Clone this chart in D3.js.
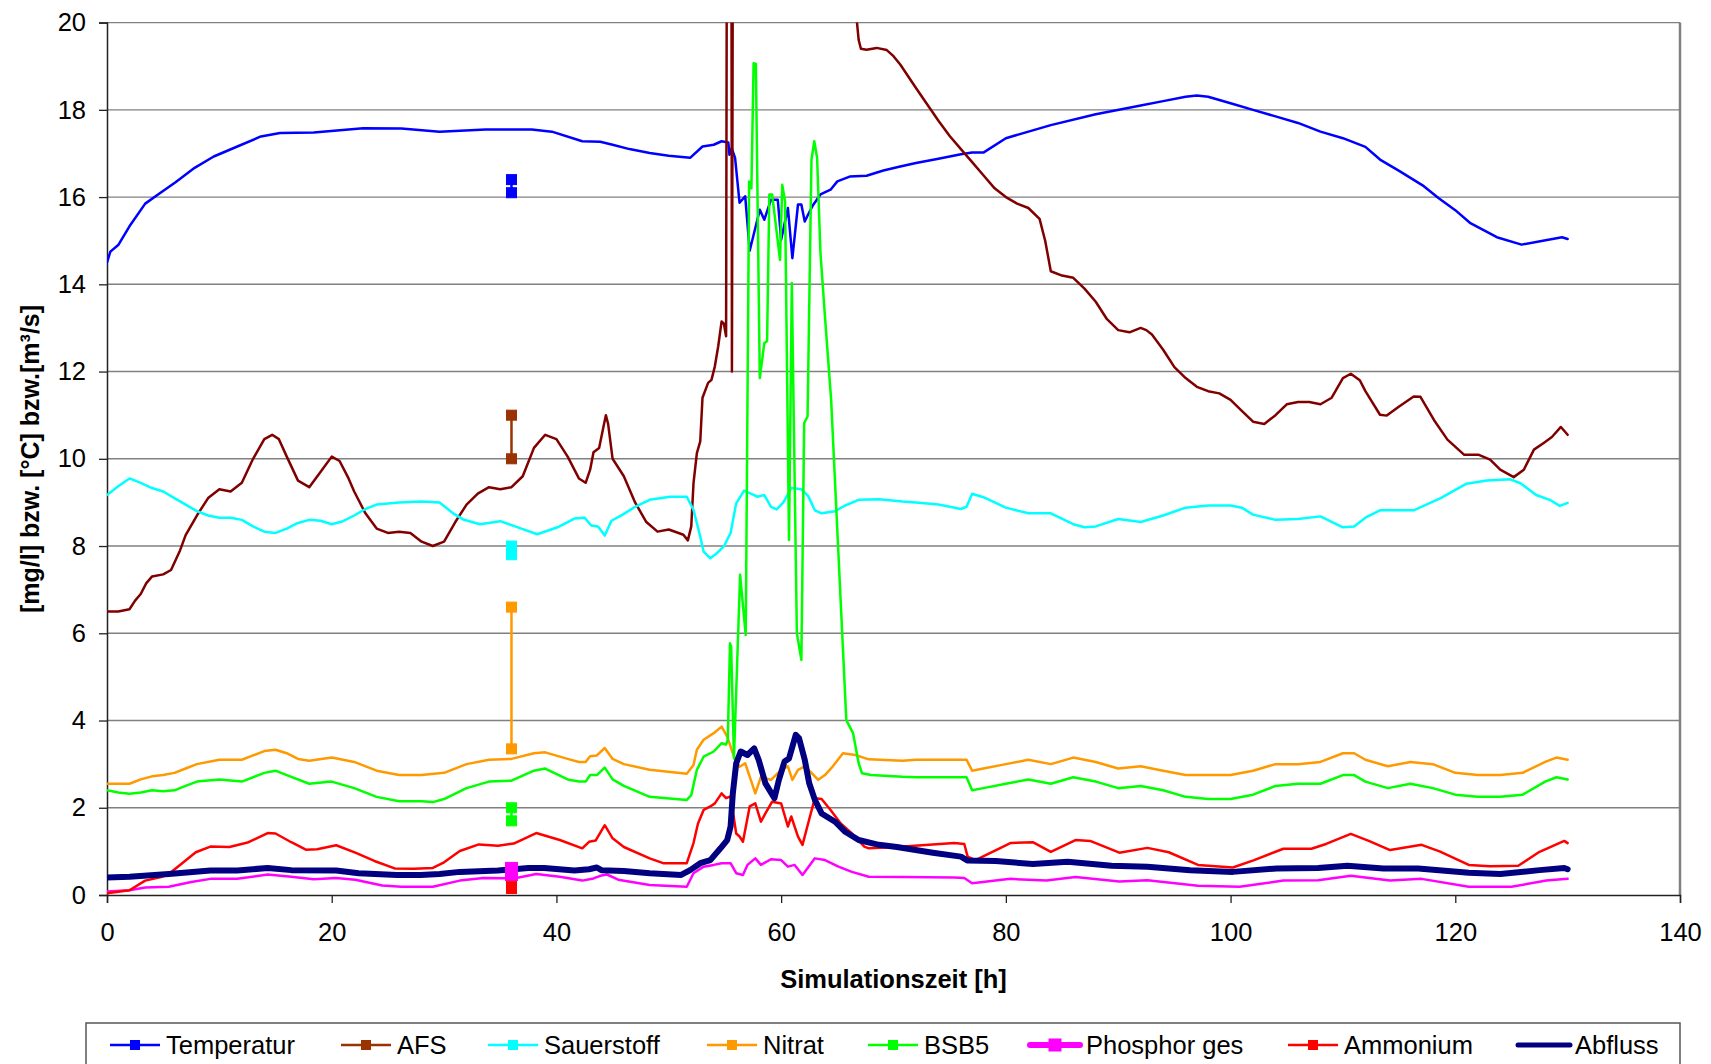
<!DOCTYPE html>
<html>
<head>
<meta charset="utf-8">
<script src="https://cdn.jsdelivr.net/npm/d3@7"></script>
<style>
  body { margin: 0; background: #fff; }
  text { font-family: "Liberation Sans", Arial, sans-serif; fill: #000; }
</style>
</head>
<body>
<div id="chart"></div>
<script>
// Simulation results, [hour, value] pairs
var temperatur = [[0,14.5],[0.3,14.75],[1,14.9],[2,15.33],[3.4,15.85],[4.7,16.09],[6.1,16.34],[7.8,16.67],[9.5,16.93],[11.6,17.16],[13.7,17.39],[15.4,17.47],[18.4,17.48],[22.8,17.58],[26.2,17.57],[29.6,17.5],[33.7,17.55],[37.8,17.55],[39.6,17.5],[42.3,17.28],[43.9,17.27],[45,17.2],[46.5,17.1],[48.3,17.01],[50,16.95],[51.9,16.9],[53,17.16],[54,17.2],[54.7,17.28],[55.3,17.25],[55.4,16.97],[55.6,17.12],[55.9,16.9],[56.3,15.87],[56.8,16.02],[57.2,14.77],[58.1,15.71],[58.5,15.48],[59.1,15.94],[59.7,15.94],[60,15.02],[60.6,15.75],[61,14.6],[61.5,15.83],[61.8,15.83],[62.1,15.44],[62.4,15.6],[62.8,15.8],[63.5,16.06],[64.4,16.17],[65,16.36],[66.1,16.47],[67.6,16.49],[69.1,16.61],[70.6,16.7],[72,16.78],[74,16.88],[76,16.98],[77,17.02],[78,17.02],[80,17.35],[84,17.65],[88,17.9],[92,18.1],[94,18.2],[96,18.3],[97,18.33],[98,18.3],[100,18.15],[102,18.0],[104,17.85],[106,17.7],[108,17.5],[110,17.35],[112,17.15],[113.3,16.86],[115,16.6],[117.2,16.25],[118.5,15.98],[120,15.7],[121.3,15.41],[123.7,15.08],[125.9,14.91],[127.8,15.0],[129.5,15.08],[130,15.04]];

var afs = [[0,6.5],[1,6.5],[2,6.55],[2.5,6.75],[3,6.9],[3.5,7.15],[4,7.3],[5,7.35],[5.7,7.45],[6.5,7.9],[7,8.25],[8,8.7],[9,9.1],[10,9.3],[11,9.25],[12,9.45],[13,10.0],[14,10.45],[14.7,10.55],[15.3,10.45],[16,10.05],[17,9.5],[18,9.35],[19,9.7],[20,10.05],[20.7,9.95],[21.5,9.55],[22,9.25],[23,8.75],[24,8.4],[25,8.3],[26,8.33],[27,8.3],[28,8.1],[29,8.0],[30,8.1],[31,8.55],[32,8.95],[33,9.2],[34,9.35],[35,9.3],[36,9.35],[37,9.6],[38,10.25],[39,10.55],[40,10.45],[41,10.05],[42,9.55],[42.6,9.45],[43,9.75],[43.3,10.15],[43.8,10.25],[44.2,10.75],[44.4,11.0],[44.6,10.8],[45,10.0],[46,9.6],[47,9.0],[48,8.55],[49,8.33],[50,8.38],[51.3,8.26],[51.7,8.13],[52,8.45],[52.2,9.44],[52.5,10.13],[52.8,10.4],[53,11.4],[53.5,11.74],[53.8,11.81],[54.1,12.12],[54.4,12.58],[54.7,13.15],[54.9,13.1],[55.1,12.81],[55.3,40],[55.5,40],[55.62,12.0],[55.85,40],[60,45],[65,30],[66,22],[66.7,20.14],[66.9,19.6],[67.1,19.4],[67.6,19.38],[68.5,19.42],[69.4,19.37],[70,19.23],[70.6,19.04],[72,18.5],[74,17.75],[75,17.4],[76,17.1],[77,16.8],[78,16.5],[79,16.2],[80,16.0],[81,15.85],[82,15.75],[83,15.5],[83.5,15.0],[84,14.3],[85,14.2],[86,14.15],[87,13.9],[88,13.6],[89,13.2],[90,12.95],[91,12.9],[92,13.0],[92.5,12.95],[93,12.85],[94,12.5],[95,12.1],[96,11.85],[97,11.65],[98,11.55],[99,11.5],[100,11.35],[101,11.1],[102,10.85],[103,10.8],[104,11.0],[105,11.25],[106,11.3],[107,11.3],[108,11.25],[109,11.4],[110,11.85],[110.7,11.95],[111.5,11.8],[112,11.55],[113.3,11.01],[113.9,10.99],[115,11.2],[116.3,11.43],[116.9,11.42],[118.1,10.89],[119.3,10.44],[120.8,10.09],[122.1,10.09],[123.1,9.98],[124,9.75],[125.2,9.58],[126.1,9.75],[127,10.21],[127.9,10.37],[128.6,10.5],[129.4,10.73],[130,10.55]];

var sauerstoff = [[0,9.17],[1,9.37],[2,9.55],[3,9.45],[4,9.33],[5,9.25],[6,9.1],[7,8.95],[8,8.8],[9,8.7],[10,8.65],[11,8.65],[12,8.6],[13,8.45],[14,8.33],[15,8.3],[16,8.4],[17,8.53],[18,8.6],[19,8.58],[20,8.5],[21,8.57],[22,8.7],[23,8.85],[24,8.95],[26,9.0],[28,9.02],[29.6,9.0],[30.8,8.75],[31.7,8.61],[33.2,8.5],[35,8.57],[36.75,8.41],[38.3,8.27],[40.1,8.43],[41.6,8.63],[42.5,8.65],[43.1,8.47],[43.7,8.45],[44.3,8.24],[44.9,8.58],[45.9,8.72],[47,8.9],[48.3,9.06],[50.1,9.13],[51.6,9.13],[52.2,8.83],[52.8,8.22],[53.1,7.87],[53.7,7.72],[54.3,7.84],[54.9,7.99],[55.5,8.3],[56,8.98],[56.7,9.27],[57.3,9.2],[57.9,9.13],[58.5,9.17],[59.1,8.9],[59.6,8.84],[60.2,9.0],[60.9,9.33],[61.8,9.3],[62.4,9.15],[63,8.82],[63.6,8.75],[64.8,8.8],[65.7,8.93],[66.9,9.06],[68.7,9.07],[70.8,9.02],[72,9.0],[74,8.95],[76,8.85],[76.5,8.9],[77,9.2],[78,9.12],[80,8.88],[82,8.75],[84,8.75],[86,8.5],[87,8.43],[88,8.45],[90,8.62],[92,8.55],[94,8.7],[96,8.88],[98,8.93],[100,8.93],[101,8.88],[102,8.72],[104,8.6],[106,8.62],[108,8.68],[110,8.43],[111,8.45],[112,8.65],[113.3,8.82],[116.3,8.82],[118.7,9.1],[121,9.43],[122.8,9.5],[124.9,9.53],[125.8,9.44],[127.2,9.17],[128.4,9.06],[129.3,8.92],[130,8.99]];

var nitrat = [[0,2.55],[2,2.55],[3,2.65],[4,2.72],[5,2.75],[6,2.8],[7,2.9],[8,3.0],[10,3.1],[12,3.1],[13,3.2],[14,3.3],[15,3.33],[16,3.25],[17,3.12],[18,3.08],[20,3.15],[22,3.05],[24,2.85],[26,2.75],[28,2.75],[30,2.8],[32,3.0],[34,3.1],[36,3.12],[38,3.25],[39,3.27],[41,3.12],[42,3.05],[42.6,3.05],[43,3.18],[43.6,3.2],[44.3,3.37],[45,3.12],[46,3.0],[48.3,2.87],[51.6,2.78],[52.2,2.98],[52.5,3.33],[53.1,3.56],[54,3.71],[54.7,3.86],[55.2,3.63],[55.8,3.17],[56.3,2.94],[56.8,3.02],[57.3,2.64],[57.7,2.33],[58.2,2.71],[59.1,2.64],[60,2.87],[60.6,2.95],[61,2.64],[61.5,2.87],[62.1,2.95],[62.7,2.8],[63.3,2.64],[63.9,2.75],[64.6,2.95],[65.5,3.25],[66.6,3.21],[67.8,3.11],[70.8,3.08],[72,3.1],[76,3.1],[76.5,3.1],[77,2.85],[78,2.9],[80,3.0],[82,3.1],[84,3.0],[86,3.15],[88,3.05],[90,2.9],[92,2.95],[94,2.85],[96,2.75],[98,2.75],[100,2.75],[102,2.85],[104,3.0],[106,3.0],[108,3.05],[110,3.25],[111,3.25],[112,3.1],[114,2.95],[116,3.05],[118,3.0],[120,2.8],[122,2.75],[124,2.75],[126,2.8],[128,3.05],[129,3.15],[130,3.1]];

var bsb5 = [[0,2.4],[1,2.35],[2,2.32],[3,2.35],[4,2.4],[5,2.38],[6,2.4],[7,2.5],[8,2.6],[10,2.65],[12,2.6],[14,2.8],[15,2.85],[16,2.75],[18,2.55],[20,2.6],[22,2.45],[24,2.25],[26,2.15],[28,2.15],[29,2.13],[30,2.2],[32,2.45],[34,2.6],[36,2.62],[38,2.85],[39,2.9],[41,2.65],[42,2.6],[42.6,2.6],[43,2.75],[43.6,2.75],[44.3,2.92],[45,2.65],[46,2.5],[48.3,2.25],[51.6,2.18],[52,2.29],[52.5,2.87],[53.1,3.17],[54,3.29],[54.7,3.48],[55.1,3.45],[55.25,3.56],[55.45,5.77],[55.55,5.7],[55.8,3.13],[56.35,7.34],[56.55,6.77],[56.85,5.96],[57.15,16.36],[57.35,16.2],[57.55,19.07],[57.75,19.05],[58.1,11.85],[58.5,12.65],[58.75,12.7],[58.95,16.06],[59.2,16.06],[59.9,14.56],[60.1,16.28],[60.35,15.9],[60.7,8.14],[60.95,14.03],[61.4,6.0],[61.8,5.39],[62.05,10.82],[62.35,10.97],[62.7,16.86],[62.95,17.28],[63.2,16.9],[63.5,14.72],[63.9,13.26],[64.45,11.35],[65.8,4.01],[66.4,3.71],[66.9,3.02],[67.2,2.79],[68,2.75],[70.8,2.71],[72,2.7],[76,2.7],[76.5,2.7],[77,2.4],[78,2.45],[80,2.55],[82,2.65],[84,2.55],[86,2.7],[88,2.6],[90,2.45],[92,2.5],[94,2.4],[96,2.25],[98,2.2],[100,2.2],[102,2.3],[104,2.5],[106,2.55],[108,2.55],[110,2.75],[111,2.75],[112,2.6],[114,2.45],[116,2.55],[118,2.45],[120,2.3],[122,2.25],[124,2.25],[126,2.3],[128,2.6],[129,2.7],[130,2.65]];

var phosphor = [[0,0.08],[2,0.11],[3.4,0.17],[5.5,0.19],[7.5,0.3],[9.2,0.37],[11.6,0.37],[14.3,0.47],[16.4,0.42],[18.4,0.36],[20.4,0.39],[22.1,0.35],[24.5,0.22],[26.2,0.19],[29,0.19],[31.4,0.33],[33.5,0.39],[36.2,0.38],[38.2,0.48],[40.3,0.42],[42.3,0.33],[43.3,0.38],[43.9,0.44],[44.5,0.47],[45.5,0.35],[48.3,0.23],[51.6,0.19],[52.2,0.5],[53.1,0.65],[54,0.69],[54.7,0.73],[55.5,0.73],[56,0.5],[56.6,0.46],[57,0.69],[57.7,0.84],[58.2,0.69],[59.1,0.82],[60,0.8],[60.6,0.65],[61.2,0.69],[61.9,0.46],[63,0.84],[63.9,0.8],[65.1,0.65],[66.3,0.53],[67.8,0.42],[70.8,0.41],[75.4,0.4],[76.3,0.39],[77,0.27],[80.4,0.37],[83.6,0.33],[86.2,0.41],[90.1,0.31],[92.6,0.34],[97.1,0.21],[100.8,0.19],[104.7,0.33],[107.8,0.34],[110.7,0.44],[114.2,0.33],[117,0.37],[121.2,0.19],[125,0.19],[128.1,0.33],[130,0.37]];

var ammonium = [[0,0.04],[2,0.11],[3.4,0.33],[4.8,0.41],[5.5,0.48],[6.8,0.75],[7.9,0.98],[9.2,1.11],[10.9,1.1],[12.6,1.21],[14.3,1.42],[15,1.41],[16.4,1.21],[17.7,1.04],[18.7,1.05],[20.4,1.14],[22.1,0.97],[23.8,0.78],[25.6,0.61],[27.3,0.6],[29,0.62],[30,0.75],[31.4,1.01],[33.1,1.16],[34.8,1.13],[36.2,1.18],[38.2,1.42],[40.3,1.26],[42.3,1.07],[42.9,1.22],[43.5,1.25],[44.3,1.6],[45,1.3],[46,1.1],[48.3,0.84],[49.5,0.73],[51.6,0.73],[52.2,1.19],[52.6,1.64],[53.1,1.95],[53.7,2.03],[54.1,2.1],[54.7,2.33],[55.1,2.22],[55.5,2.26],[56,1.41],[56.3,1.34],[56.6,1.22],[57.2,2.03],[57.7,2.1],[58.2,1.68],[58.6,1.87],[59.2,2.14],[60,2.1],[60.6,1.57],[60.9,1.8],[61.5,1.34],[61.9,1.15],[62.4,1.64],[63,2.22],[63.6,2.2],[64.4,1.95],[65.3,1.64],[66.3,1.41],[67.4,1.11],[67.8,1.07],[70.3,1.1],[75.4,1.19],[76.3,1.17],[76.6,0.88],[77.3,0.8],[80.4,1.19],[82.4,1.21],[84,0.99],[86.2,1.26],[87.5,1.24],[90.1,0.97],[92.6,1.08],[94.5,0.98],[97.1,0.69],[100.2,0.63],[102.1,0.8],[104.7,1.06],[107.2,1.06],[108.5,1.17],[110.7,1.4],[112.3,1.24],[114.2,1.03],[117,1.15],[118.6,1.0],[121.2,0.69],[123.1,0.66],[125.6,0.67],[127.5,0.99],[129.7,1.24],[130,1.19]];

var abfluss = [[0,0.4],[2,0.42],[5.5,0.48],[9.2,0.56],[11.6,0.56],[14.3,0.62],[16.4,0.57],[20.4,0.56],[22.4,0.5],[25.8,0.46],[27.9,0.46],[29.6,0.48],[31.4,0.53],[34.8,0.56],[37.5,0.62],[38.9,0.62],[41.6,0.56],[42.9,0.59],[43.6,0.63],[44,0.57],[46,0.55],[48.3,0.5],[51.1,0.46],[51.9,0.57],[52.8,0.73],[53.7,0.8],[54.6,1.07],[55.2,1.26],[55.5,1.57],[55.7,2.33],[56,3.02],[56.4,3.29],[57,3.21],[57.6,3.36],[58,3.1],[58.6,2.56],[59.4,2.22],[59.8,2.64],[60.3,3.06],[60.7,3.13],[61.3,3.67],[61.6,3.59],[62.1,3.1],[62.5,2.56],[63,2.18],[63.6,1.87],[64.8,1.68],[65.7,1.45],[66.9,1.26],[68.7,1.15],[70.3,1.1],[73.5,0.97],[76,0.88],[76.6,0.79],[79.1,0.78],[82.4,0.71],[85.5,0.76],[89.4,0.67],[92.6,0.65],[96.4,0.57],[100.2,0.53],[104.1,0.61],[107.8,0.62],[110.4,0.67],[113.6,0.61],[116.7,0.61],[121.2,0.51],[124,0.48],[127.5,0.57],[129.7,0.62],[130,0.59]];

// Measured values (two samples at hour 36)
var messZeit = 36;
var messTemperatur = [16.1, 16.4];
var messAfs = [10.0, 11.0];
var messSauerstoff = [7.8, 8.0];
var messNitrat = [3.35, 6.6];
var messBsb5 = [1.7, 2.0];
var messPhosphor = [0.47, 0.61];
var messAmmonium = [0.15, 0.2];

var seriesNames = ["Temperatur", "AFS", "Sauerstoff", "Nitrat", "BSB5", "Phosphor ges", "Ammonium", "Abfluss"];
var xTicks = [0, 20, 40, 60, 80, 100, 120, 140];
var yTicks = [0, 2, 4, 6, 8, 10, 12, 14, 16, 18, 20];

var series = [
  { name: seriesNames[0], data: temperatur, mess: messTemperatur, line: "#0000FF", mark: "#0000FF", w: 2.5 },
  { name: seriesNames[1], data: afs,        mess: messAfs,        line: "#800000", mark: "#993300", w: 2.5 },
  { name: seriesNames[2], data: sauerstoff, mess: messSauerstoff, line: "#00FFFF", mark: "#00FFFF", w: 2.5 },
  { name: seriesNames[3], data: nitrat,     mess: messNitrat,     line: "#FF9900", mark: "#FF9900", w: 2.5 },
  { name: seriesNames[4], data: bsb5,       mess: messBsb5,       line: "#00FF00", mark: "#00FF00", w: 2.5 },
  { name: seriesNames[5], data: phosphor,   mess: messPhosphor,   line: "#FF00FF", mark: "#FF00FF", w: 2.5 },
  { name: seriesNames[6], data: ammonium,   mess: messAmmonium,   line: "#FF0000", mark: "#FF0000", w: 2.5 },
  { name: seriesNames[7], data: abfluss,    mess: null,           line: "#000080", mark: "#000080", w: 6 }
];

// SVG area
var svgWidth = 1711;
var svgHeight = 1064;
var plot = { left: 107, right: 1680, top: 22.6, bottom: 895 };

var svg = d3.select("#chart")
  .append("svg")
  .attr("width", svgWidth)
  .attr("height", svgHeight);

// Scales
var xScale = d3.scaleLinear().domain([0, 140]).range([plot.left, plot.right]);
var yScale = d3.scaleLinear().domain([0, 20]).range([plot.bottom, plot.top]);

// Gridlines
svg.append("g")
  .selectAll("line")
  .data(yTicks.filter(d => d > 0))
  .enter()
  .append("line")
  .attr("x1", plot.left)
  .attr("x2", plot.right)
  .attr("y1", d => yScale(d))
  .attr("y2", d => yScale(d))
  .attr("stroke", "#808080")
  .attr("stroke-width", 1.4);

// plot area border (right side)
svg.append("line")
  .attr("x1", plot.right).attr("x2", plot.right)
  .attr("y1", plot.top).attr("y2", plot.bottom)
  .attr("stroke", "#808080")
  .attr("stroke-width", 2.5);

// Axes
var leftAxis = d3.axisLeft(yScale).tickValues(yTicks).tickSize(8).tickPadding(13);
var bottomAxis = d3.axisBottom(xScale).tickValues(xTicks).tickSize(8).tickPadding(20);

var yAxisG = svg.append("g")
  .attr("transform", `translate(${plot.left},0)`)
  .call(leftAxis);

var xAxisG = svg.append("g")
  .attr("transform", `translate(0,${plot.bottom})`)
  .call(bottomAxis);

[yAxisG, xAxisG].forEach(function(g) {
  g.select(".domain").attr("stroke", "#222").attr("stroke-width", 1.5);
  g.selectAll(".tick line").attr("stroke", "#222").attr("stroke-width", 1.3);
  g.selectAll(".tick text")
    .style("font-size", "25.5px")
    .style("font-family", "'Liberation Sans', Arial, sans-serif")
    .attr("fill", "#000");
});

// Clip so the off-scale AFS peak is cut at 20
svg.append("defs").append("clipPath")
  .attr("id", "plotClip")
  .append("rect")
  .attr("x", plot.left)
  .attr("y", plot.top)
  .attr("width", plot.right - plot.left + 2)
  .attr("height", plot.bottom - plot.top + 4);

var lineGen = d3.line()
  .x(d => xScale(d[0]))
  .y(d => yScale(d[1]));

var linesGroup = svg.append("g").attr("clip-path", "url(#plotClip)");

linesGroup.selectAll("path")
  .data(series)
  .enter()
  .append("path")
  .attr("d", d => lineGen(d.data))
  .attr("fill", "none")
  .attr("stroke", d => d.line)
  .attr("stroke-width", d => d.w)
  .attr("stroke-linejoin", "round")
  .attr("stroke-linecap", "round");

// Measured values: vertical connector + square markers
var messGroup = svg.append("g");
series.filter(s => s.mess).forEach(function(s) {
  var big = s.name === "Phosphor ges";
  var size = big ? 12 : 10;
  messGroup.append("line")
    .attr("x1", xScale(messZeit)).attr("x2", xScale(messZeit))
    .attr("y1", yScale(s.mess[0])).attr("y2", yScale(s.mess[1]))
    .attr("stroke", s.mark)
    .attr("stroke-width", 2.5);
  messGroup.selectAll(null)
    .data(s.mess)
    .enter()
    .append("rect")
    .attr("x", xScale(messZeit) - size / 2)
    .attr("y", d => yScale(d) - size / 2)
    .attr("width", size)
    .attr("height", size)
    .attr("fill", s.mark)
    .attr("stroke", s.mark)
    .attr("stroke-width", 1);
});

// Axis titles
svg.append("text")
  .attr("transform", "translate(30,459) rotate(-90)")
  .attr("text-anchor", "middle")
  .attr("dominant-baseline", "central")
  .style("font-size", "25px")
  .style("font-weight", "bold")
  .text("[mg/l] bzw. [°C] bzw.[m³/s]");

svg.append("text")
  .attr("x", (plot.left + plot.right) / 2)
  .attr("y", 979)
  .attr("text-anchor", "middle")
  .attr("dominant-baseline", "central")
  .style("font-size", "25.5px")
  .style("font-weight", "bold")
  .text("Simulationszeit [h]");

// Legend
var legendY = 1045;
var legendX = [110, 341, 488, 707, 868, 1030, 1288, 1518];

svg.append("rect")
  .attr("x", 86)
  .attr("y", 1023)
  .attr("width", 1680 - 86)
  .attr("height", 60)
  .attr("fill", "#fff")
  .attr("stroke", "#555")
  .attr("stroke-width", 1.5);

var legendItems = svg.append("g")
  .selectAll("g")
  .data(series)
  .enter()
  .append("g")
  .attr("transform", (d, i) => `translate(${legendX[i]},${legendY})`);

legendItems.append("line")
  .attr("x1", 0).attr("x2", d => d.name === "Abfluss" ? 52 : 50)
  .attr("y1", 0).attr("y2", 0)
  .attr("stroke", d => d.name === "AFS" ? d.mark : d.line)
  .attr("stroke-width", d => d.name === "Phosphor ges" ? 6 : (d.name === "Abfluss" ? 5 : 2.5))
  .attr("stroke-linecap", d => d.name === "Phosphor ges" || d.name === "Abfluss" ? "round" : "butt");

legendItems.filter(d => d.mess)
  .append("rect")
  .attr("x", d => d.name === "Phosphor ges" ? 25 - 6.5 : 25 - 5)
  .attr("y", d => d.name === "Phosphor ges" ? -6.5 : -5)
  .attr("width", d => d.name === "Phosphor ges" ? 13 : 10)
  .attr("height", d => d.name === "Phosphor ges" ? 13 : 10)
  .attr("fill", d => d.mark);

legendItems.append("text")
  .attr("x", d => d.name === "Abfluss" ? 57 : 56)
  .attr("y", 0)
  .attr("dominant-baseline", "central")
  .style("font-size", "25.5px")
  .text(d => d.name);
</script>
</body>
</html>
